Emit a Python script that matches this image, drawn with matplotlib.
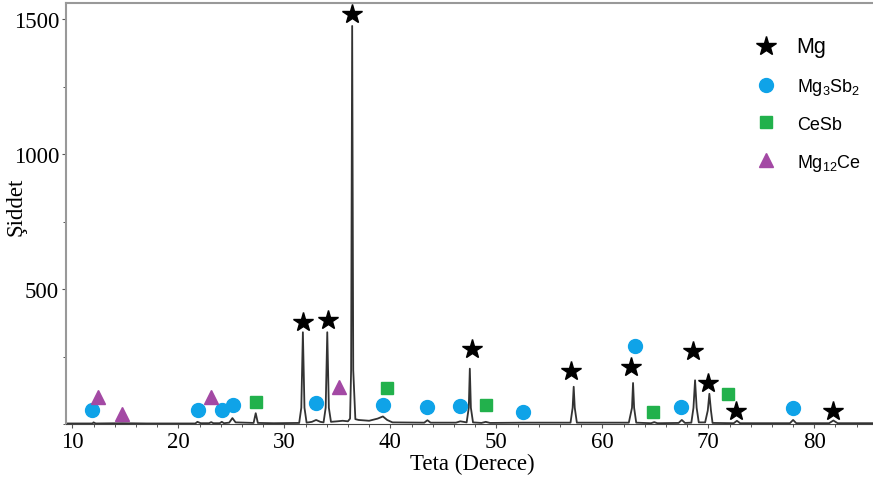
import matplotlib
matplotlib.use("Agg")
import matplotlib.pyplot as plt
from matplotlib.ticker import MultipleLocator

# XRD trace (2theta, intensity)
teta = [9.4, 11.9, 12.0, 12.2, 14.7, 17.0, 21.6, 21.8, 22.1, 22.9, 23.1, 23.3,
        23.9, 24.1, 24.3, 24.8, 25.1, 25.4, 27.1, 27.3, 27.5, 29.0,
        31.4, 31.6, 31.75, 31.9, 32.1, 32.6, 33.0, 33.4,
        33.7, 33.9, 34.05, 34.2, 34.4, 35.0, 35.5, 36.0,
        36.2, 36.3, 36.4, 36.5, 36.7, 37.0, 38.0, 38.8, 39.3, 39.7, 40.2,
        43.2, 43.5, 43.8, 46.2, 46.6, 47.2, 47.4, 47.5, 47.6, 47.8, 48.6, 49.0, 49.4,
        52.5, 57.0, 57.2, 57.3, 57.4, 57.6, 62.5, 62.8, 62.9, 63.0, 63.2,
        64.6, 64.9, 65.2, 67.2, 67.5, 67.8,
        68.4, 68.6, 68.75, 68.9, 69.1, 69.7, 69.95, 70.1, 70.25, 70.4,
        72.4, 72.7, 73.0, 77.7, 78.0, 78.3, 81.4, 81.8, 82.2, 86.0]
siddet = [2, 2, 6, 2, 3, 2, 2, 8, 3, 3, 7, 3,
          3, 8, 3, 5, 22, 6, 4, 40, 4, 3,
          4, 60, 340, 60, 5, 8, 15, 8,
          6, 60, 340, 60, 8, 10, 12, 10,
          20, 200, 1475, 200, 18, 15, 12, 20, 28, 15, 6,
          5, 14, 5, 5, 10, 6, 60, 205, 60, 6, 4, 8, 4,
          5, 5, 60, 138, 60, 5, 5, 60, 152, 60, 5,
          3, 7, 3, 4, 15, 4,
          5, 60, 162, 60, 6, 6, 50, 112, 50, 4,
          3, 12, 3, 3, 15, 3, 3, 13, 3, 3]

# phase markers
mg_x = [36.4, 31.8, 34.1, 47.7, 57.0, 62.7, 68.6, 70.0, 72.6, 81.8]
mg_y = [1519, 378, 385, 278, 196, 211, 270, 152, 50, 50]
mg3sb2_x = [11.9, 21.9, 24.1, 25.2, 33.0, 39.3, 43.5, 46.6, 52.5, 63.1, 67.4, 78.0]
mg3sb2_y = [52, 52, 52, 70, 78, 70, 62, 65, 44, 290, 63, 59]
cesb_x = [27.3, 39.7, 49.0, 64.8, 71.9]
cesb_y = [81, 133, 70, 44, 111]
mg12ce_x = [12.4, 14.7, 23.1, 35.2]
mg12ce_y = [100, 37, 100, 137]

plt.rcParams["mathtext.default"] = "regular"

fig = plt.figure(figsize=(8.73, 4.85), dpi=100)
ax = fig.add_axes([0.0756, 0.1237, 0.93, 0.868])

ax.plot(teta, siddet, color="#333333", lw=1.3, zorder=2)
ax.plot(mg_x, mg_y, "*", color="black", ms=15, ls="none", label="Mg", zorder=3)
ax.plot(mg3sb2_x, mg3sb2_y, "o", color="#0FA3E8", ms=10, ls="none",
        label=r"Mg$_3$Sb$_2$", zorder=3)
ax.plot(cesb_x, cesb_y, "s", color="#22B14C", ms=9, ls="none", label="CeSb", zorder=3)
ax.plot(mg12ce_x, mg12ce_y, "^", color="#A349A4", ms=10, ls="none",
        label=r"Mg$_{12}$Ce", zorder=3)

ax.set_xlim(9.4, 86.0)
ax.set_ylim(0, 1560)
ax.set_xticks([10, 20, 30, 40, 50, 60, 70, 80])
ax.set_yticks([500, 1000, 1500])
ax.xaxis.set_minor_locator(MultipleLocator(2))
ax.yaxis.set_minor_locator(MultipleLocator(250))
ax.tick_params(axis="both", which="major", length=3, width=0.8, color="#555555",
               labelsize=16.5, pad=2)
ax.tick_params(axis="both", which="minor", length=2, width=0.7, color="#555555")
for lab in ax.get_xticklabels() + ax.get_yticklabels():
    lab.set_family("Liberation Serif")

ax.set_xlabel("Teta (Derece)", family="Liberation Serif", fontsize=16.5, labelpad=1)
ax.set_ylabel("Şiddet", family="Liberation Serif", fontsize=16.5)
ax.yaxis.set_label_coords(-0.049, 0.518)

ax.spines["right"].set_visible(False)
ax.spines["left"].set_color("#999999")
ax.spines["top"].set_color("#999999")
ax.spines["bottom"].set_color("#444444")
ax.spines["left"].set_linewidth(1.5)
ax.spines["top"].set_linewidth(1.5)

leg = ax.legend(loc="upper left", bbox_to_anchor=(0.84, 0.922), frameon=False,
                prop={"family": "Liberation Sans", "size": 13},
                labelspacing=1.05, handletextpad=0.7, borderaxespad=0.0,
                borderpad=0.0)
leg.get_texts()[0].set_fontsize(15.5)

fig.savefig("out.png", dpi=100)
